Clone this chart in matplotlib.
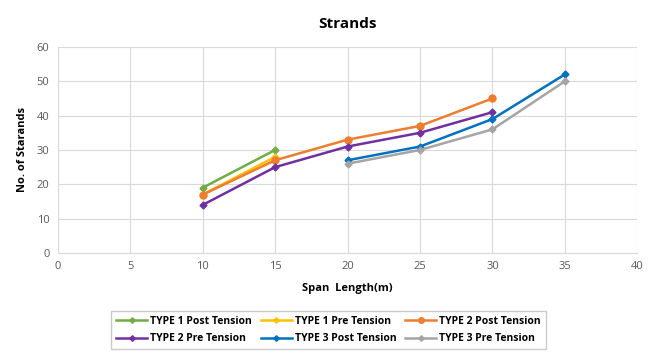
import matplotlib.pyplot as plt

plt.rcParams['font.family'] = ['Open Sans', 'DejaVu Sans']

# span lengths (m) and number of strands for each series
x_type1 = [10, 15]
x_type2 = [10, 15, 20, 25, 30]
x_type3 = [20, 25, 30, 35]

type1_post = [19, 30]
type1_pre = [17, 28]
type2_post = [17, 27, 33, 37, 45]
type2_pre = [14, 25, 31, 35, 41]
type3_post = [27, 31, 39, 52]
type3_pre = [26, 30, 36, 50]

labels = ["TYPE 1 Post Tension", "TYPE 1 Pre Tension", "TYPE 2 Post Tension",
          "TYPE 2 Pre Tension", "TYPE 3 Post Tension", "TYPE 3 Pre Tension"]
colors = ["#70AD47", "#FFC000", "#ED7D31", "#7030A0", "#0070C0", "#A5A5A5"]

fig = plt.figure(figsize=(6.57, 3.64), dpi=100)
ax = fig.add_axes([0.088, 0.305, 0.882, 0.566])

series = [(x_type1, type1_post, 'D', 3.5),
          (x_type1, type1_pre, 'D', 3.5),
          (x_type2, type2_post, 'o', 5),
          (x_type2, type2_pre, 'D', 3.5),
          (x_type3, type3_post, 'D', 3.5),
          (x_type3, type3_pre, 'D', 3.5)]

handles = []
for (xs, ys, m, ms), lab, c in zip(series, labels, colors):
    h, = ax.plot(xs, ys, color=c, marker=m, markersize=ms, linewidth=1.8, label=lab)
    handles.append(h)

ax.set_xlim(0, 40)
ax.set_ylim(0, 60)
ax.set_xticks(range(0, 41, 5))
ax.set_yticks(range(0, 61, 10))
ax.grid(True, color="#D9D9D9", linewidth=0.8)
ax.set_axisbelow(True)
for s in ax.spines.values():
    s.set_visible(False)
ax.spines['bottom'].set_visible(True)
ax.spines['bottom'].set_color("#D9D9D9")
ax.tick_params(length=0, colors="#595959", labelsize=8, pad=6)

ax.set_title("Strands", fontsize=11, fontweight='bold', pad=14)
ax.set_xlabel("Span  Length(m)", fontsize=8, fontweight='bold', labelpad=8)
ax.set_ylabel("No. of Starands", fontsize=8, fontweight='bold', labelpad=6)

order = [0, 3, 1, 4, 2, 5]
leg = fig.legend([handles[i] for i in order], [labels[i] for i in order],
                 ncol=3, loc='center', bbox_to_anchor=(0.5, 0.093),
                 fontsize=7.5, frameon=True, fancybox=False, shadow=False,
                 handlelength=3, columnspacing=0.8, handletextpad=0.3,
                 labelspacing=0.6, borderpad=0.5, markerscale=0.8)
leg.get_frame().set_edgecolor("#BFBFBF")
for t in leg.get_texts():
    t.set_fontweight('bold')

fig.savefig("out.png", dpi=100)
